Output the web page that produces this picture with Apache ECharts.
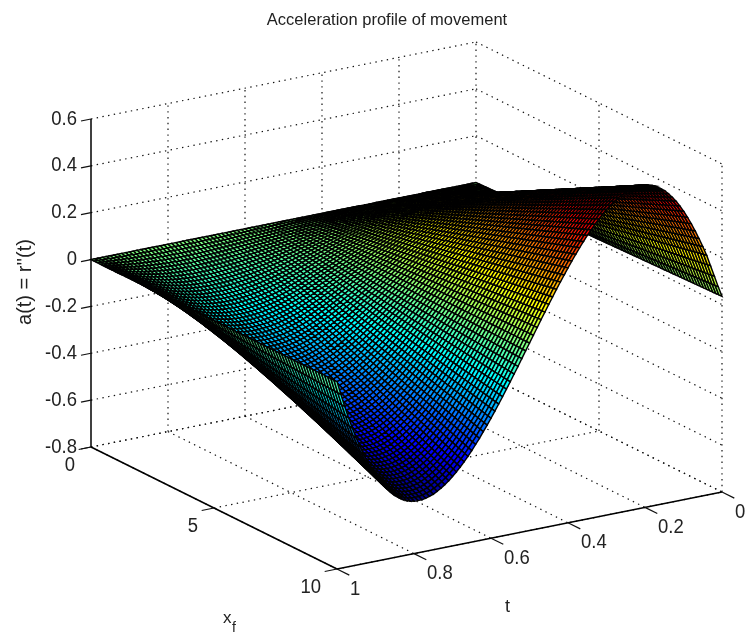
<!DOCTYPE html>
<html>
<head>
<meta charset="utf-8">
<style>html,body{margin:0;padding:0;background:#fff}#c{width:756px;height:634px}</style>
<script src="https://cdn.jsdelivr.net/npm/echarts@6/dist/echarts.min.js"></script>
</head>
<body>
<div id="c"></div>
<script>
// ---- values ----
const titleText = 'Acceleration profile of movement';
const zTicks = [0.6, 0.4, 0.2, 0, -0.2, -0.4, -0.6, -0.8];
const zTickLabels = ['0.6', '0.4', '0.2', '0', '-0.2', '-0.4', '-0.6', '-0.8'];
const xfTicks = [0, 5, 10];
const xfTickLabels = ['0', '5', '10'];
const tTicks = [0, 0.2, 0.4, 0.6, 0.8, 1];
const tTickLabels = ['0', '0.2', '0.4', '0.6', '0.8', '1'];
const tValues = [0,0.01,0.02,0.03,0.04,0.05,0.06,0.07,0.08,0.09,0.1,0.11,0.12,0.13,0.14,0.15,0.16,0.17,0.18,0.19,0.2,0.21,0.22,0.23,0.24,0.25,0.26,0.27,0.28,0.29,0.3,0.31,0.32,0.33,0.34,0.35,0.36,0.37,0.38,0.39,0.4,0.41,0.42,0.43,0.44,0.45,0.46,0.47,0.48,0.49,0.5,0.51,0.52,0.53,0.54,0.55,0.56,0.57,0.58,0.59,0.6,0.61,0.62,0.63,0.64,0.65,0.66,0.67,0.68,0.69,0.7,0.71,0.72,0.73,0.74,0.75,0.76,0.77,0.78,0.79,0.8,0.81,0.82,0.83,0.84,0.85,0.86,0.87,0.88,0.89,0.9,0.91,0.92,0.93,0.94,0.95,0.96,0.97,0.98,0.99,1];
// acceleration along the xf = 10 edge of the surface, one value per entry of tValues
const accelAtXf10 = [0.035,0.08,0.128,0.176,0.224,0.264,0.302,0.338,0.372,0.403,0.432,0.458,0.482,0.502,0.52,0.536,0.548,0.559,0.567,0.573,0.576,0.577,0.577,0.574,0.569,0.563,0.554,0.544,0.532,0.519,0.504,0.488,0.47,0.451,0.431,0.41,0.387,0.364,0.339,0.314,0.288,0.261,0.234,0.206,0.177,0.149,0.119,0.09,0.06,0.03,0,-0.03,-0.06,-0.09,-0.119,-0.149,-0.177,-0.206,-0.234,-0.261,-0.288,-0.314,-0.339,-0.364,-0.387,-0.41,-0.431,-0.451,-0.47,-0.488,-0.504,-0.519,-0.532,-0.544,-0.554,-0.563,-0.569,-0.574,-0.577,-0.577,-0.576,-0.573,-0.567,-0.559,-0.548,-0.536,-0.52,-0.502,-0.482,-0.458,-0.432,-0.403,-0.371,-0.336,-0.298,-0.257,-0.212,-0.164,-0.113,-0.058,0];
// the surface's xf rulings are straight lines through a = 0 at xf = 0
const xfValues = [0,0.125,0.25,0.375,0.5,0.625,0.75,0.875,1,1.125,1.25,1.375,1.5,1.625,1.75,1.875,2,2.125,2.25,2.375,2.5,2.625,2.75,2.875,3,3.125,3.25,3.375,3.5,3.625,3.75,3.875,4,4.125,4.25,4.375,4.5,4.625,4.75,4.875,5,5.125,5.25,5.375,5.5,5.625,5.75,5.875,6,6.125,6.25,6.375,6.5,6.625,6.75,6.875,7,7.125,7.25,7.375,7.5,7.625,7.75,7.875,8,8.125,8.25,8.375,8.5,8.625,8.75,8.875,9,9.125,9.25,9.375,9.5,9.625,9.75,9.875,10];

// ---- view: where the 3-D box lands on the hidden cartesian plane ----
const view = {
  corner: [91, 447],          // t=1, xf=0, a=-0.8
  perXf: [24.6, 12.2],        // per unit of xf
  perT: [-385, 77],           // per unit of t (t grows toward the left)
  perZ: -234.3,               // per unit of a
  t0: 1, z0: -0.8
};
function project(t, xf, z) {
  return [
    view.corner[0] + xf * view.perXf[0] + (t - view.t0) * view.perT[0],
    view.corner[1] + xf * view.perXf[1] + (t - view.t0) * view.perT[1] + (z - view.z0) * view.perZ
  ];
}
function surfaceZ(i, j) { return accelAtXf10[i] * xfValues[j] / 10; }

function jet(v) { // v in [0,1], MATLAB jet
  const c = x => Math.round(255 * Math.max(0, Math.min(1, x)));
  const r = 1.5 - Math.abs(4 * v - 3), g = 1.5 - Math.abs(4 * v - 2), b = 1.5 - Math.abs(4 * v - 1);
  return 'rgb(' + c(r) + ',' + c(g) + ',' + c(b) + ')';
}
const zMin = Math.min.apply(null, accelAtXf10), zMax = Math.max.apply(null, accelAtXf10);

// ---- tables built from the arrays above ----
const cells = [];
for (let i = 0; i < tValues.length - 1; i++)
  for (let j = 0; j < xfValues.length - 1; j++) cells.push([i, j]);

const zHi = zTicks[0], zLo = zTicks[zTicks.length - 1];
const tBack = tTicks[0], tFront = tTicks[tTicks.length - 1];
const xfBack = xfTicks[0], xfFront = xfTicks[xfTicks.length - 1];
const gridSegs = [];
zTicks.forEach(z => {
  gridSegs.push([tFront, xfBack, z, tBack, xfBack, z]);
  gridSegs.push([tBack, xfBack, z, tBack, xfFront, z]);
});
tTicks.forEach(t => {
  gridSegs.push([t, xfBack, zLo, t, xfFront, zLo]);
  if (t !== tFront) gridSegs.push([t, xfBack, zLo, t, xfBack, zHi]);
});
xfTicks.forEach(xf => {
  gridSegs.push([tFront, xf, zLo, tBack, xf, zLo]);
  if (xf !== xfBack) gridSegs.push([tBack, xf, zLo, tBack, xf, zHi]);
});
const axisSegs = [
  [tFront, xfBack, zLo, tFront, xfBack, zHi],
  [tFront, xfBack, zLo, tFront, xfFront, zLo],
  [tFront, xfFront, zLo, tBack, xfFront, zLo]
];
// tick marks point along the box edges: z and xf ticks toward larger t, t ticks toward larger xf
const tickSegs = [];
zTicks.forEach(z => tickSegs.push([tFront, xfBack, z, tFront + 0.026, xfBack, z]));
xfTicks.forEach(xf => tickSegs.push([tFront, xf, zLo, tFront + 0.032, xf, zLo]));
tTicks.forEach(t => tickSegs.push([t, xfFront, zLo, t, xfFront + 0.5, zLo]));

const labels = [];
zTicks.forEach((z, k) => labels.push({ at: [tFront, xfBack, z], dx: -14, dy: 0, text: zTickLabels[k], align: 'right' }));
xfTicks.forEach((xf, k) => labels.push({ at: [tFront, xf, zLo], dx: -16, dy: 18, text: xfTickLabels[k], align: 'right' }));
tTicks.forEach((t, k) => labels.push({ at: [t, xfFront, zLo], dx: 13, dy: 20, text: tTickLabels[k], align: 'left' }));

function segmentSeries(segs, style, z) {
  return {
    type: 'custom', coordinateSystem: 'cartesian2d', silent: true, animation: false, z: z,
    data: segs,
    encode: { x: 0, y: 1 },
    clip: false,
    renderItem: function (params, api) {
      const s = segs[params.dataIndex];
      const a = api.coord(project(s[0], s[1], s[2]));
      const b = api.coord(project(s[3], s[4], s[5]));
      return { type: 'line', shape: { x1: a[0], y1: a[1], x2: b[0], y2: b[1] }, style: style };
    }
  };
}

const chart = echarts.init(document.getElementById('c'), null, { renderer: 'canvas', width: 756, height: 634 });
chart.setOption({
  animation: false,
  backgroundColor: '#fff',
  title: {
    text: titleText, left: 382, top: 7, textAlign: 'center',
    textStyle: { fontFamily: 'Liberation Sans', fontSize: 16.5, fontWeight: 'normal', color: '#222' }
  },
  grid: { left: 0, right: 0, top: 0, bottom: 0 },
  xAxis: { type: 'value', min: 0, max: 756, show: false },
  yAxis: { type: 'value', min: 0, max: 634, inverse: true, show: false },
  series: [
    segmentSeries(gridSegs, { stroke: '#111', lineWidth: 1.2, lineDash: [1.4, 4.4], fill: null }, 1),
    segmentSeries(axisSegs, { stroke: '#000', lineWidth: 1.5, fill: null }, 2),
    segmentSeries(tickSegs, { stroke: '#111', lineWidth: 1.2, fill: null }, 2),
    {
      type: 'custom', coordinateSystem: 'cartesian2d', silent: true, animation: false, z: 3,
      progressive: 0, clip: false,
      data: cells,
      encode: { x: 0, y: 1 },
      renderItem: function (params, api) {
        const c = cells[params.dataIndex], i = c[0], j = c[1];
        const pts = [[i, j], [i + 1, j], [i + 1, j + 1], [i, j + 1]].map(p =>
          api.coord(project(tValues[p[0]], xfValues[p[1]], surfaceZ(p[0], p[1]))));
        const v = (surfaceZ(i, j) - zMin) / (zMax - zMin);
        return {
          type: 'polygon', shape: { points: pts },
          style: { fill: jet(v), stroke: '#000', lineWidth: 1.45 }
        };
      }
    },
    {
      type: 'custom', coordinateSystem: 'cartesian2d', silent: true, animation: false, z: 4,
      clip: false,
      data: labels.map((l, k) => [k, k]),
      encode: { x: 0, y: 1 },
      renderItem: function (params, api) {
        const l = labels[params.dataIndex];
        const p = api.coord(project(l.at[0], l.at[1], l.at[2]));
        return {
          type: 'text', x: p[0] + l.dx, y: p[1] + l.dy, scaleY: 1.1,
          style: { text: l.text, textAlign: l.align, textVerticalAlign: 'middle',
            fontFamily: 'Liberation Sans', fontSize: 18.5, fill: '#222' }
        };
      }
    }
  ],
  graphic: [
    { type: 'text', x: 25, y: 282, rotation: Math.PI / 2, z: 10,
      style: { text: "a(t) = r''(t)", textAlign: 'center', textVerticalAlign: 'middle',
        fontFamily: 'Liberation Sans', fontSize: 20, fill: '#222' } },
    { type: 'text', x: 223, y: 618, z: 10,
      style: { text: 'x', textVerticalAlign: 'middle', fontFamily: 'Liberation Sans', fontSize: 17, fill: '#222' } },
    { type: 'text', x: 232, y: 628, z: 10,
      style: { text: 'f', textVerticalAlign: 'middle', fontFamily: 'Liberation Sans', fontSize: 14, fill: '#222' } },
    { type: 'text', x: 505, y: 607, z: 10,
      style: { text: 't', textVerticalAlign: 'middle', fontFamily: 'Liberation Sans', fontSize: 18, fill: '#222' } }
  ]
});
</script>
</body>
</html>
